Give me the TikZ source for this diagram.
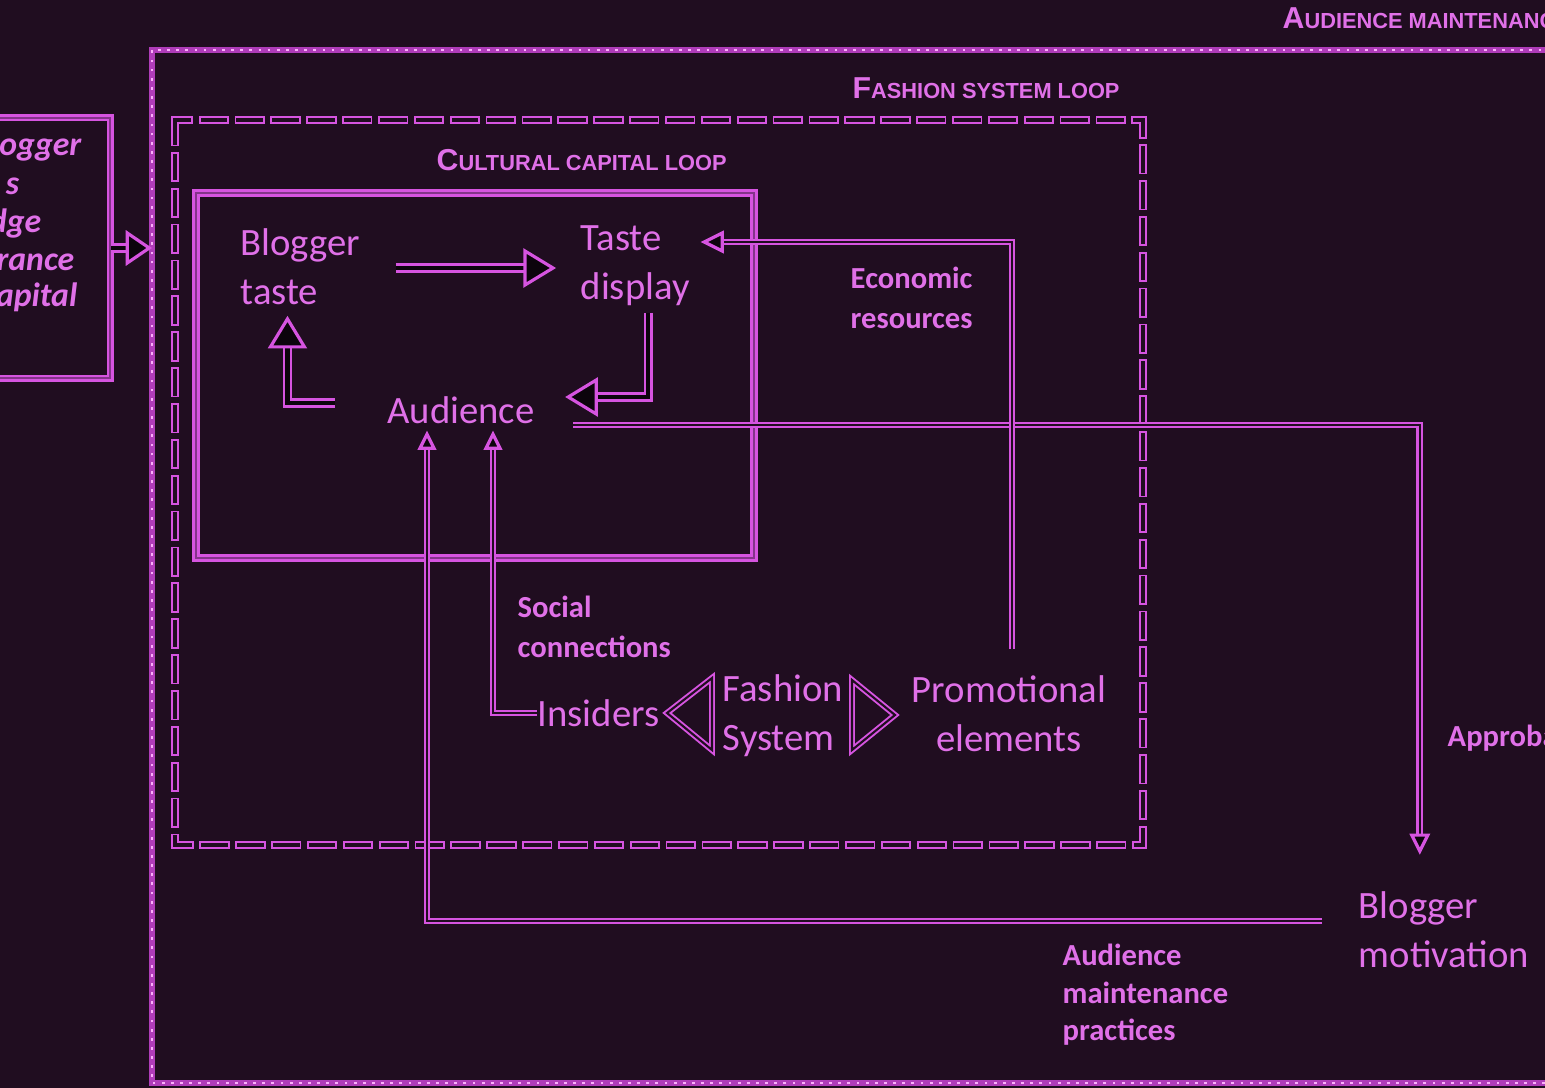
\documentclass[tikz,border=0pt]{standalone}
\usepackage{fontspec}
\setmainfont{Carlito}
\newfontfamily\ttlfont{Liberation Sans}
\usetikzlibrary{calc}
\definecolor{bgc}{RGB}{32,13,32}
\definecolor{mag}{RGB}{214,84,224}
\definecolor{magtxt}{RGB}{224,112,232}
\definecolor{hdfill}{RGB}{12,4,12}
\definecolor{dotc}{RGB}{250,175,250}
\definecolor{framec}{RGB}{175,60,185}
\newcommand\fsc[2]{{\ttlfont\bfseries\fontsize{8.6}{9}\selectfont #1}{\ttlfont\bfseries\fontsize{6.2}{7}\selectfont #2}}
\begin{document}
\begin{tikzpicture}[x=0.01cm,y=-0.01cm,
  txt/.style={text=magtxt, inner sep=0pt, font=\fontsize{11}{14}\selectfont, align=left},
  lbl/.style={text=magtxt, inner sep=0pt, font=\bfseries\fontsize{8.7}{11.2}\selectfont, align=left},
  ltxt/.style={text=magtxt, inner sep=0pt, font=\bfseries\itshape\fontsize{9.6}{10.8}\selectfont, anchor=base east},
  ttl/.style={text=magtxt, inner sep=0pt, anchor=west},
  conn/.style={draw=mag, line width=0.6pt, double=bgc, double distance=0.75pt},
  bigarr/.style={draw=mag, line width=0.7pt, double=hdfill, double distance=1.2pt},
  headst/.style={draw=mag, line width=0.9pt, fill=hdfill, line join=miter},
  solidframe/.style={draw=mag, line width=0.7pt, double=mag!55!bgc, double distance=0.6pt},
  fsdash/.style={draw=mag, line width=0.5pt, double=bgc, double distance=1.2pt, dash pattern=on 6.4pt off 3.8pt, line cap=rect},
  tri/.style={draw=mag, line width=0.55pt, double=bgc, double distance=0.6pt, line join=miter},
  pics/ahd/.style args={#1/#2}{code={\draw[headst] (0,0) -- (-#1,#2) -- (-#1,-#2) -- cycle;}},
]
\useasboundingbox (0,0) rectangle (1545,1088);
\clip (0,0) rectangle (1545,1088);
\fill[bgc] (0,0) rectangle (1545,1088);

% outer dotted frame (audience maintenance loop)
\draw[framec, line width=1.5pt] (1600,1083) -- (152,1083) -- (152,50) -- (1600,50);
\draw[dotc, line width=0.6pt, dash pattern=on 0.8pt off 1.8pt] (1600,1083) -- (152,1083) -- (152,50) -- (1600,50);

% fashion system loop dashed frame
\draw[fsdash] (175,120) rectangle (1143,845);

% cultural capital loop box
\draw[solidframe] (196,193) rectangle (754,558);

% left box
\node[solidframe, minimum width=34.14pt, minimum height=73.97pt, inner sep=0pt] (lbox) at (50,248) {};
\node[ltxt] (lb1) at (82,156) {Blogger};
\node[ltxt] (lb2) at (20,195) {s};
\node[ltxt] (lb3) at (42,233) {dge};
\node[ltxt] (lb4) at (75,271) {rance};
\node[ltxt] (lb5) at (78,307) {capital};

% titles
\node[ttl] (ttlaml) at (1282,18) {\fsc{A}{UDIENCE MAINTENANCE LOOP}};
\node[ttl] (ttlfsl) at (852,88) {\fsc{F}{ASHION SYSTEM LOOP}};
\node[ttl] (ttlccl) at (436,160) {\fsc{C}{ULTURAL CAPITAL LOOP}};

% main text nodes
\node[txt, anchor=west] (btaste) at (240,267) {Blogger\\taste};
\node[txt, anchor=west] (tdisplay) at (580,266) {Taste\\display};
\node[txt] (aud) at (461,410) {Audience};
\node[txt, anchor=west] (insiders) at (537,713) {Insiders};
\node[txt, anchor=west] (fashion) at (722,716) {Fashion\\System};
\node[txt, align=center] (promo) at (1009,714) {Promotional\\elements};
\node[txt, anchor=west] (motiv) at (1358,930) {Blogger\\motivation};

% labels
\node[lbl, anchor=west] (econ) at (850,298) {Economic\\resources};
\node[lbl, anchor=west] (social) at (517,627) {Social\\connections};
\node[lbl, anchor=west, font=\bfseries\fontsize{8.7}{10.7}\selectfont] (amp) at (1062,995) {Audience\\maintenance\\practices};
\node[lbl, anchor=west] (approb) at (1447,738) {Approbation};

% fashion system triangles
\draw[tri] (667,713) -- (712,678) -- (712,750) -- cycle;
\draw[tri] (895,715) -- (852,680) -- (852,750) -- cycle;

% C1 blogger taste -> taste display
\coordinate (t1) at ($(tdisplay.west)+(-27,2)$);
\coordinate (s1) at ($(btaste.east)+(35,0)$);
\draw[bigarr, shorten >=4pt] (s1 |- t1) -- (t1);
\pic at (t1) {ahd=28/17};

% C2 taste display -> audience
\coordinate (s2) at ($(tdisplay.south)+(13,6)$);
\coordinate (t2) at ($(aud.east)+(33,-13)$);
\draw[bigarr, shorten >=4pt] (s2) |- (t2);
\pic[rotate=180] at (t2) {ahd=28/17};

% C3 audience -> blogger taste
\coordinate (s3) at ($(aud.west)+(-52,-7)$);
\coordinate (t3) at ($(btaste.south)+(-13,13)$);
\draw[bigarr, shorten >=4pt] (s3) -| (t3);
\pic[rotate=90] at (t3) {ahd=28/17};

% C5 audience -> blogger motivation (approbation)
\coordinate (s5) at ($(aud.east)+(38,15)$);
\coordinate (t5) at ($(motiv.north)+(-24,-40)$);
\draw[conn, shorten >=2.5pt] (s5) -| (t5);
\pic[rotate=270] at (t5) {ahd=16/8};

% C4 promotional elements -> taste display (economic resources)
\coordinate (s4) at ($(promo.north)+(3,-26)$);
\coordinate (t4) at ($(tdisplay.east)+(14,-24)$);
\draw[conn, shorten >=2.5pt] (s4) |- (t4);
\pic[rotate=180] at (t4) {ahd=18/9};

% C6 insiders -> audience (social connections)
\coordinate (t6) at ($(aud.south)+(32,10)$);
\draw[conn, shorten >=2pt] (insiders.west) -| (t6);
\pic[rotate=90] at (t6) {ahd=14/7};

% C7 blogger motivation -> audience (audience maintenance practices)
\coordinate (s7) at ($(motiv.west)+(-36,-9)$);
\coordinate (t7) at ($(aud.south)+(-34,10)$);
\draw[conn, shorten >=2pt] (s7) -| (t7);
\pic[rotate=90] at (t7) {ahd=14/7};

% C8 left box -> outer frame
\coordinate (t8) at ($(lbox.east)+(38,0)$);
\draw[bigarr, shorten >=3pt] (lbox.east) -- (t8);
\pic at (t8) {ahd=22/15};
\end{tikzpicture}
\end{document}
